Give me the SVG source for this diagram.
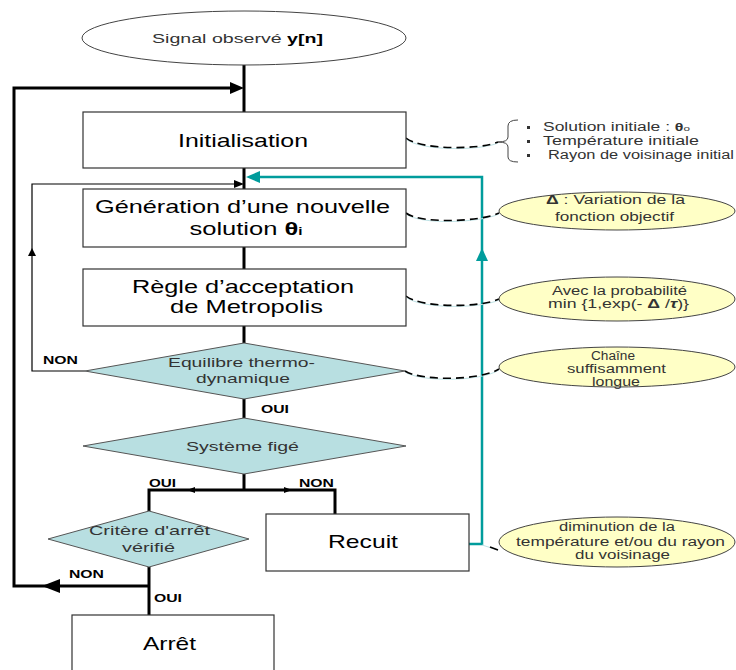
<svg xmlns="http://www.w3.org/2000/svg" width="736" height="670" viewBox="0 0 736 670">
<style>
text{font-family:"Liberation Sans",Arial,sans-serif;}
.box{fill:#fff;stroke:#333;stroke-width:1.2;}
.dia{fill:#b8dfe1;stroke:#555;stroke-width:1;}
.note{fill:#ffffc6;stroke:#444;stroke-width:1;}
.bt{font-size:18.5px;fill:#000;text-anchor:middle;}
.dt{font-size:13.5px;fill:#333;text-anchor:middle;}
.nt{font-size:12px;fill:#333;text-anchor:middle;}
.lb{font-size:10.5px;font-weight:bold;fill:#000;}
.thick{fill:none;stroke:#000;stroke-width:3;}
.thin{fill:none;stroke:#000;stroke-width:1.2;}
.teal{fill:none;stroke:#009c9c;stroke-width:2.5;}
.dash{fill:none;stroke:#000;stroke-width:1.6;stroke-dasharray:8,5;}
.sh{fill:none;stroke:#bfe3e6;stroke-width:1;}
</style>

<g id="connectors">
  <path class="thick" d="M244,65V112M244,168V189M244,247V269M244,326V343M244,399V418M244,474V490"/>
  <path class="thick" d="M149,511V490H335V515"/>
  <path class="thick" d="M149,567V615"/>
  <path class="thick" d="M149,586H14V88H232"/>
  <polygon points="244,88 230,82 230,94" fill="#000"/>
  <polygon points="42,586 60,579 60,593" fill="#000"/>
  <polygon points="187,490 195,487 195,493" fill="#000"/>
  <polygon points="292,490 284,487 284,493" fill="#000"/>
  <path class="thin" d="M85,371H32V184H236"/>
  <polygon points="244,184 234,180 234,188" fill="#000"/>
  <polygon points="32,248 28,256 36,256" fill="#000"/>
  <path class="teal" d="M469,544H482V177H258"/>
  <polygon points="246,177 260,171 260,183" fill="#009c9c"/>
  <polygon points="482,248 476,261 488,261" fill="#009c9c"/>
  <path class="sh" d="M406,139 C420,151 480,151 498,143"/>
  <path class="dash" d="M406,138 C420,150 480,150 498,142"/>
  <path class="sh" d="M406,214 C420,225 480,223 499,214"/>
  <path class="dash" d="M406,213 C420,224 480,222 499,213"/>
  <path class="sh" d="M406,297 C420,309 480,309 499,300"/>
  <path class="dash" d="M406,296 C420,308 480,308 499,299"/>
  <path class="sh" d="M405,372 C420,382 480,382 499,370"/>
  <path class="dash" d="M405,371 C420,381 480,381 499,369"/>
  <path class="sh" d="M482,545 L498,550"/>
  <path fill="none" stroke="#000" stroke-width="1.6" d="M490,547 L498,550"/>
</g>

<g id="start">
  <ellipse cx="244" cy="38" rx="162" ry="27" fill="#fff" stroke="#444" stroke-width="1"/>
  <text x="237.5" y="43" font-size="13.5" fill="#333" text-anchor="middle" textLength="171" lengthAdjust="spacingAndGlyphs">Signal observé <tspan font-weight="bold" fill="#000">y[n]</tspan></text>
</g>

<g id="init">
  <rect class="box" x="83" y="112" width="323" height="56"/>
  <text class="bt" x="243" y="147" textLength="130" lengthAdjust="spacingAndGlyphs">Initialisation</text>
</g>

<g id="generation">
  <rect class="box" x="83" y="189" width="323" height="58"/>
  <text class="bt" x="242.5" y="213" textLength="295" lengthAdjust="spacingAndGlyphs">Génération d’une nouvelle</text>
  <text class="bt" x="246" y="235" textLength="113" lengthAdjust="spacingAndGlyphs">solution <tspan font-weight="bold">θ</tspan><tspan font-size="11" font-weight="bold">i</tspan></text>
</g>

<g id="metropolis">
  <rect class="box" x="83" y="269" width="323" height="57"/>
  <text class="bt" x="243" y="293" textLength="222" lengthAdjust="spacingAndGlyphs">Règle d’acceptation</text>
  <text class="bt" x="246.5" y="313" textLength="153" lengthAdjust="spacingAndGlyphs">de Metropolis</text>
</g>

<g id="equilibre">
  <polygon class="dia" points="244,343 405,371 244,399 85,371"/>
  <text class="dt" x="241.5" y="367" textLength="147" lengthAdjust="spacingAndGlyphs">Equilibre thermo-</text>
  <text class="dt" x="243" y="383" textLength="94" lengthAdjust="spacingAndGlyphs">dynamique</text>
</g>

<g id="fige">
  <polygon class="dia" points="244,418 406,446 244,474 83,446"/>
  <text class="dt" x="242.5" y="451" textLength="113" lengthAdjust="spacingAndGlyphs">Système figé</text>
</g>

<g id="critere">
  <polygon class="dia" points="149,511 249,539 149,567 48,539"/>
  <text class="dt" x="149.5" y="535" textLength="121" lengthAdjust="spacingAndGlyphs">Critère d'arrêt</text>
  <text class="dt" x="148.5" y="552" textLength="53" lengthAdjust="spacingAndGlyphs">vérifié</text>
</g>

<g id="recuit">
  <rect class="box" x="266" y="514" width="203" height="57"/>
  <text class="bt" x="363" y="548" textLength="70" lengthAdjust="spacingAndGlyphs">Recuit</text>
</g>

<g id="arret">
  <rect class="box" x="72" y="615" width="202" height="70"/>
  <text class="bt" x="169.5" y="650" textLength="53" lengthAdjust="spacingAndGlyphs">Arrêt</text>
</g>

<g id="labels">
  <text class="lb" x="43" y="364" textLength="35" lengthAdjust="spacingAndGlyphs">NON</text>
  <text class="lb" x="261" y="413" textLength="28" lengthAdjust="spacingAndGlyphs">OUI</text>
  <text class="lb" x="149" y="487" textLength="27" lengthAdjust="spacingAndGlyphs">OUI</text>
  <text class="lb" x="299" y="487" textLength="35" lengthAdjust="spacingAndGlyphs">NON</text>
  <text class="lb" x="69" y="578" textLength="35" lengthAdjust="spacingAndGlyphs">NON</text>
  <text class="lb" x="154" y="602" textLength="28" lengthAdjust="spacingAndGlyphs">OUI</text>
</g>

<g id="note-init">
  <path fill="none" stroke="#444" stroke-width="1" d="M518,120 Q508,120 508,126 V137 Q508,142 498,142 Q508,142 508,147 V157 Q508,162 518,162"/>
  <rect x="527" y="126" width="3" height="3" fill="#333"/>
  <rect x="527" y="140" width="3" height="3" fill="#333"/>
  <rect x="527" y="154" width="3" height="3" fill="#333"/>
  <text font-size="12" fill="#333" x="543" y="131" textLength="147" lengthAdjust="spacingAndGlyphs">Solution initiale : <tspan font-weight="bold" font-size="11">θ</tspan><tspan font-size="8">o</tspan></text>
  <text font-size="12" fill="#333" x="543" y="145" textLength="156" lengthAdjust="spacingAndGlyphs">Température initiale</text>
  <text font-size="12" fill="#333" x="548" y="159" textLength="186" lengthAdjust="spacingAndGlyphs">Rayon de voisinage initial</text>
</g>

<g id="note-delta">
  <ellipse class="note" cx="617" cy="211" rx="118" ry="19"/>
  <text class="nt" x="615.5" y="204" textLength="139" lengthAdjust="spacingAndGlyphs"><tspan font-weight="bold">Δ</tspan> : Variation de la</text>
  <text class="nt" x="614.5" y="221" textLength="119" lengthAdjust="spacingAndGlyphs">fonction objectif</text>
</g>

<g id="note-proba">
  <ellipse class="note" cx="617" cy="299" rx="118" ry="22"/>
  <text class="nt" x="619.5" y="295" textLength="135" lengthAdjust="spacingAndGlyphs">Avec la probabilité</text>
  <text class="nt" x="618.5" y="308" textLength="141" lengthAdjust="spacingAndGlyphs">min {1,exp(- <tspan font-weight="bold">Δ</tspan> /<tspan font-weight="bold" font-style="italic">τ</tspan>)}</text>
</g>

<g id="note-chaine">
  <ellipse class="note" cx="617" cy="367" rx="118" ry="20"/>
  <text class="nt" x="613" y="360" textLength="44" lengthAdjust="spacingAndGlyphs">Chaîne</text>
  <text class="nt" x="616.5" y="373" textLength="99" lengthAdjust="spacingAndGlyphs">suffisamment</text>
  <text class="nt" x="616" y="386" textLength="48" lengthAdjust="spacingAndGlyphs">longue</text>
</g>

<g id="note-recuit">
  <ellipse class="note" cx="617" cy="542" rx="118" ry="25"/>
  <text class="nt" x="617" y="531" textLength="116" lengthAdjust="spacingAndGlyphs">diminution de la</text>
  <text class="nt" x="620.5" y="546" textLength="209" lengthAdjust="spacingAndGlyphs">température et/ou  du rayon</text>
  <text class="nt" x="622.5" y="559" textLength="95" lengthAdjust="spacingAndGlyphs">du voisinage</text>
</g>
</svg>
